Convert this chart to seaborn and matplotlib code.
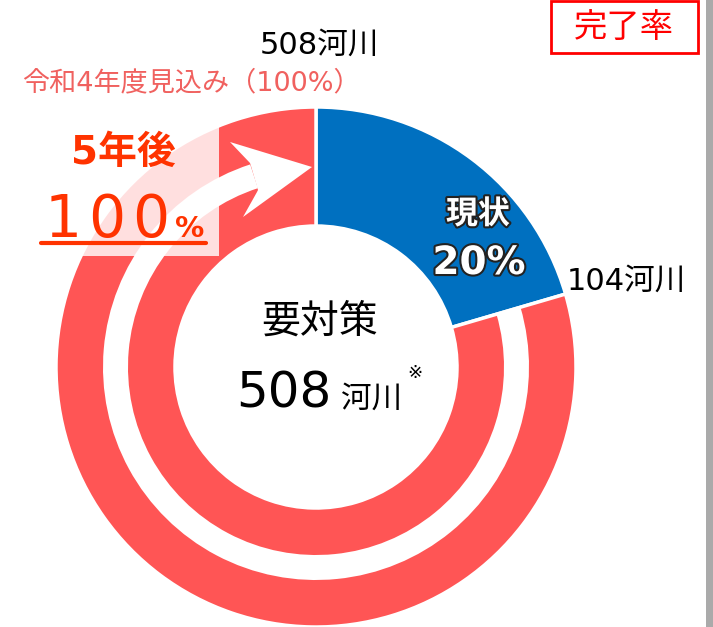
import matplotlib as mpl
mpl.use("Agg")
import matplotlib.pyplot as plt
import matplotlib.patches as mpatches
import matplotlib.patheffects as pe
import seaborn as sns

# データ
categories = ["現状", "未完了"]
rivers = [104, 404]          # 河川数
total_rivers = 508
current_pct = 20
target_pct = 100

sns.set_theme(style="white")
# 数字は幅の広いDejaVu、日本語はNoto Sans CJKにフォールバック
plt.rcParams['font.family'] = ['DejaVu Sans', 'Noto Sans CJK JP']

W, H = 713, 627
fig = plt.figure(figsize=(W / 100, H / 100), dpi=100)
ax = fig.add_axes([0, 0, 1, 1])


def Y(y):
    # 画像座標(上から)を下からの座標に変換
    return H - y


cx, cy = 316, Y(367)
r_out, r_in = 260, 141
blue = '#0070C0'
red = '#FF5555'
orange = '#FF3300'

ax.pie(rivers, radius=r_out, center=(cx, cy), startangle=90, counterclock=False,
       colors=[blue, red],
       wedgeprops=dict(width=r_out - r_in, edgecolor='white', linewidth=2.5))

# 白い矢印（リング間の隙間）
end_ang = 90 - 360 * rivers[0] / total_rivers
gap_out, gap_in = 213, 188
ax.add_patch(mpatches.Wedge((cx, cy), gap_out, 108, 360 + end_ang,
                            width=gap_out - gap_in, facecolor='white', edgecolor='none'))
head = [(258, 190), (257, 192), (243, 217), (312, 167), (230, 142), (250, 163), (251, 166)]
ax.add_patch(mpatches.Polygon([(x, Y(y)) for x, y in head], closed=True,
                              facecolor='white', edgecolor='none'))

# 半透明の白い背景
ax.add_patch(mpatches.Rectangle((30, Y(256)), 219 - 30, 256 - 125,
                                facecolor='white', alpha=0.82, edgecolor='none', zorder=3))

# テキスト
ax.text(319, Y(45), f"{total_rivers}河川", fontsize=22, color='black', ha='center', va='center')
ax.text(191, Y(83), f"令和4年度見込み（{target_pct}%）", fontsize=19.5, color='#F0615F',
        ha='center', va='center')
ax.text(123, Y(153), "5年後", fontsize=28, fontweight='bold', color=orange,
        ha='center', va='center', zorder=4)
# 100 は字間を広げて1文字ずつ
for i, ch in enumerate(str(target_pct)):
    ax.text(63 + 44 * i, Y(237), ch, fontsize=42, color=orange, ha='center',
            va='baseline', zorder=4)
ax.text(190, Y(237), "%", fontsize=21, fontweight='bold', color=orange, ha='center',
        va='baseline', zorder=4)
ax.plot([41, 206], [Y(243), Y(243)], color=orange, lw=3, zorder=4)

ax.text(320, Y(322), "要対策", fontsize=28, color='black', ha='center', va='center')
ax.text(284, Y(408), f"{total_rivers}", fontsize=36, color='black', ha='center', va='baseline')
ax.text(372, Y(408), "河川", fontsize=22, color='black', ha='center', va='baseline')
ax.text(415, Y(373), "※", fontsize=13, color='black', ha='center', va='center')

stroke = [pe.withStroke(linewidth=3, foreground='#222222')]
ax.text(478, Y(215), categories[0], fontsize=23, fontweight='bold', color='white',
        ha='center', va='center', path_effects=stroke)
ax.text(479, Y(263), f"{current_pct}%", fontsize=28, fontweight='bold', color='white',
        ha='center', va='center', path_effects=stroke)
ax.text(626, Y(281), f"{rivers[0]}河川", fontsize=22, color='black', ha='center', va='center')

# 完了率ボックス
ax.add_patch(mpatches.Rectangle((551, Y(53)), 147, 52, facecolor='none',
                                edgecolor='#FF0000', linewidth=2))
ax.text(624, Y(27), "完了率", fontsize=24, color='#FF0000', ha='center', va='center')

# 右端のグレー線
ax.add_patch(mpatches.Rectangle((706, 0), 7, H, facecolor='#AAAAAA', edgecolor='none'))

ax.set_xlim(0, W)
ax.set_ylim(0, H)
ax.set_aspect('equal')
ax.axis('off')

fig.savefig('out.png', dpi=100)
plt.close(fig)
